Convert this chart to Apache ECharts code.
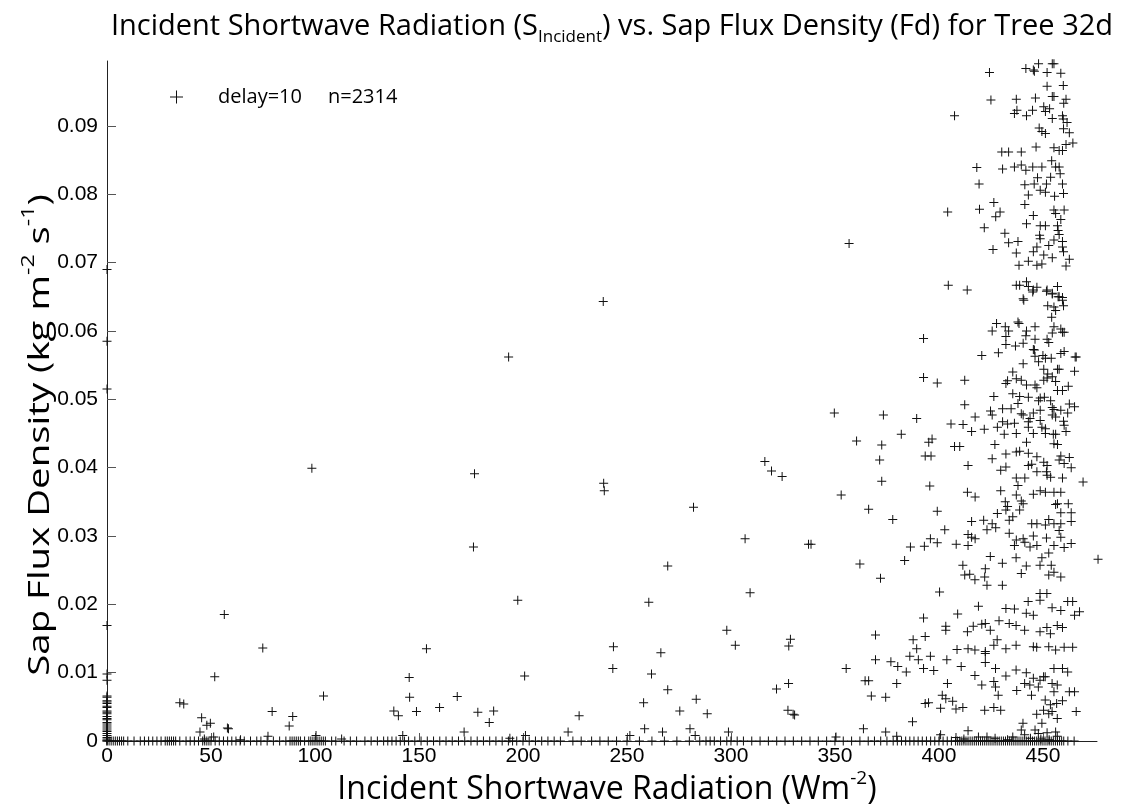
<!DOCTYPE html>
<html>
<head>
<meta charset="utf-8">
<title>Incident Shortwave Radiation vs. Sap Flux Density</title>
<script src="https://cdn.jsdelivr.net/npm/echarts@6/dist/echarts.min.js"></script>
<style>
  html, body { margin: 0; padding: 0; background: #fff; }
  #chart { width: 1122px; height: 812px; }
</style>
</head>
<body>
<div id="chart"></div>
<script>
// Tick positions on both axes
const xTicks = [0, 50, 100, 150, 200, 250, 300, 350, 400, 450];
const yTicks = [0, 0.01, 0.02, 0.03, 0.04, 0.05, 0.06, 0.07, 0.08, 0.09];
const xMax = 476;
const yMax = 0.0995;

// Readings taken at zero incident radiation (Fd values)
const zeroRadiationFd = [0.0690, 0.0585, 0.0515, 0.0169, 0.0098, 0.0089,
  0.0066, 0.0064, 0.0059, 0.0057, 0.0055, 0.0051, 0.0049, 0.0044, 0.0042, 0.0040,
  0.0036, 0.0033, 0.0031, 0.0027, 0.0025, 0.0022, 0.0019, 0.0016, 0.0014, 0.0011,
  0.0008, 0.0005, 0.0003, 0.0001, 0];

// Readings with zero sap flux (radiation values)
const zeroFluxRadiation = [0, 1, 2, 3, 4, 5, 6, 7, 8, 10, 13, 16, 18, 20, 22, 24, 26,
  28, 29, 30, 31, 32, 33, 35, 38, 40, 42, 44, 46, 47, 48, 49, 50, 52, 54, 56, 58, 60,
  62, 64, 66, 69, 72, 74, 77, 80, 83, 86, 88, 89, 90, 91, 92, 93, 95, 97, 98, 99, 100,
  101, 102, 103, 104, 105, 108, 110, 114, 117, 120, 124, 127, 130, 133, 135, 137, 139,
  141, 143, 145, 148, 151, 154, 157, 160, 163, 166, 169, 172, 175, 178, 181, 184, 187,
  190, 193, 195, 197, 200, 203, 206, 209, 212, 215, 218, 224, 228, 233, 237, 241, 245,
  250, 256, 262, 268, 274, 280, 285, 288, 290, 292, 295, 298, 300, 303, 306, 310, 314,
  318, 322, 326, 330, 334, 338, 342, 346, 350, 354, 358, 362, 366, 369, 372, 375, 378,
  380, 382, 384, 386, 388, 390, 392, 394, 396, 398, 400, 402, 404, 406, 408, 409, 410,
  411, 412, 413, 414, 415, 416, 417, 418, 419, 420, 421, 422, 423, 424, 425, 426, 427,
  428, 429, 430, 431, 432, 433, 434, 435, 436, 437, 438, 439, 440, 441, 442, 443, 444,
  445, 446, 447, 448, 449, 450, 451, 452, 453, 454, 455, 456, 457, 458, 459, 460, 462, 465];

// [radiation, Fd] readings below 360 W m-2
const lowRadiation = [
  [98.5, 0.0399], [56.4, 0.0185], [74.9, 0.0136], [51.8, 0.0094], [104.1, 0.0066],
  [35, 0.0056], [36.9, 0.0054], [45.5, 0.0034], [48, 0.0023], [49.7, 0.0026],
  [44.7, 0.0013], [58.4, 0.0018], [79.4, 0.0043], [89.3, 0.0036], [87.6, 0.0022],
  [77.4, 0.0007], [46.8, 0.0003], [51.3, 0.0006], [64.2, 0.0002], [100.5, 0.0008],
  [112.8, 0.0003], [57.9, 0.0019], [201.2, 0.0008],
  [269.6, 0.0256], [309.2, 0.0217], [197.5, 0.0206], [260.5, 0.0203], [153.6, 0.0135],
  [298, 0.0162], [302.1, 0.0140], [328.6, 0.0149], [327.8, 0.0139], [243.5, 0.0138],
  [243.2, 0.0106], [266.3, 0.0129], [261.8, 0.0098], [200.8, 0.0095], [145.3, 0.0093],
  [145.5, 0.0064], [168.4, 0.0065], [159.9, 0.0049], [148.8, 0.0043], [137.9, 0.0044],
  [140.1, 0.0037], [178.3, 0.0042], [185.9, 0.0044], [183.8, 0.0027], [171.7, 0.0013],
  [142.2, 0.0008], [227, 0.0037], [221.7, 0.0013], [258, 0.0056], [269.6, 0.0075],
  [275.4, 0.0044], [283.3, 0.0061], [280.3, 0.0018], [282.8, 0.0008], [288.6, 0.0040],
  [258.5, 0.0018], [267.1, 0.0013], [251.4, 0.0008], [298.8, 0.0013], [330.6, 0.0038],
  [193.7, 0.0004], [350.5, 0.0006], [327.7, 0.0084], [321.9, 0.0076], [327.4, 0.0045],
  [329.9, 0.0039], [355.4, 0.0106],
  [238.6, 0.0643], [193.1, 0.0562], [176.7, 0.0391], [176.2, 0.0284], [238.8, 0.0377],
  [239.1, 0.0366], [282, 0.0342], [316.3, 0.0409], [319.5, 0.0395], [324.6, 0.0387],
  [306.8, 0.0296], [337.3, 0.0288], [338.5, 0.0288], [356.8, 0.0728], [349.7, 0.0480],
  [353, 0.0360]
];

// [radiation, Fd] readings from 360 W m-2 up, Fd below 0.027
const highRadiationLowFd = [
  [362, 0.0259], [383.5, 0.0264], [371.9, 0.0238], [400.3, 0.0218], [411.5, 0.0257],
  [424.7, 0.0270], [430.5, 0.0260], [437.1, 0.0268], [442, 0.0256], [448.6, 0.0257],
  [449.5, 0.0268], [452.8, 0.0275], [454, 0.0257], [412.4, 0.0243], [414.8, 0.0244],
  [417.3, 0.0236], [422.3, 0.0252], [422, 0.0240], [423.1, 0.0228], [430.5, 0.0228],
  [439.6, 0.0245], [452.8, 0.0243], [455.3, 0.0247], [458.6, 0.0240], [476.5, 0.0266],
  [448.6, 0.0216], [451.9, 0.0216], [442.9, 0.0204], [448.6, 0.0206], [454.4, 0.0195],
  [458.6, 0.0191], [461.9, 0.0204], [464.3, 0.0204], [465.2, 0.0184], [467.6, 0.0189],
  [419, 0.0197], [432.2, 0.0194], [436.3, 0.0193], [442, 0.0187], [445.4, 0.0184],
  [409, 0.0186], [392.6, 0.0180], [403.3, 0.0168], [403.3, 0.0162], [413.7, 0.0160],
  [416.5, 0.0168], [420.6, 0.0171], [422.3, 0.0172], [424.7, 0.0162], [428.9, 0.0176],
  [433.8, 0.0172], [437.1, 0.0169], [441.2, 0.0162], [448.6, 0.0160], [451.9, 0.0166],
  [453.6, 0.0157], [456.9, 0.0169], [459.4, 0.0166], [369.5, 0.0155], [387.6, 0.0148],
  [393.4, 0.0153], [428, 0.0148],
  [408.7, 0.0134], [414, 0.0135], [417.3, 0.0133], [422.3, 0.0131], [426.4, 0.0140],
  [432.2, 0.0135], [437.1, 0.0140], [445.4, 0.0138], [447, 0.0137], [452.8, 0.0138],
  [456.1, 0.0133], [460.2, 0.0137], [464.3, 0.0137], [389.3, 0.0135], [369.5, 0.0119],
  [376.9, 0.0116], [380.2, 0.0109], [384.3, 0.0101], [386, 0.0124], [390.1, 0.0119],
  [395.9, 0.0124], [392.6, 0.0106], [397.5, 0.0103], [403.8, 0.0119], [410.7, 0.0109],
  [422.3, 0.0128], [422.3, 0.0115], [427.2, 0.0106], [432.2, 0.0095], [417.3, 0.0096],
  [437.1, 0.0104], [442, 0.0100], [445.4, 0.0092], [450.3, 0.0094], [455.3, 0.0106],
  [459.4, 0.0106], [461.9, 0.0101], [364.5, 0.0088], [366.2, 0.0088],
  [367.5, 0.0066], [374.4, 0.0064], [379.7, 0.0084], [404.1, 0.0084], [420.6, 0.0082],
  [426.4, 0.0087], [427.2, 0.0079], [428.5, 0.0067], [437.4, 0.0074], [441.2, 0.0084],
  [443.7, 0.0082], [447.8, 0.0079], [444.5, 0.0067], [448.6, 0.0089], [451.1, 0.0094],
  [454.4, 0.0084], [456.9, 0.0082], [455.3, 0.0072], [462.7, 0.0072], [465.2, 0.0072],
  [401.6, 0.0067], [403.3, 0.0062], [406.6, 0.0058], [393.4, 0.0055], [395, 0.0056],
  [400.8, 0.0048], [408.2, 0.0047], [411.5, 0.0049], [422, 0.0045], [426.4, 0.0049],
  [429.7, 0.0045], [451.1, 0.0060], [453.6, 0.0053], [456.6, 0.0055], [459.4, 0.0059],
  [447, 0.0039], [450.3, 0.0045], [452.8, 0.0040], [454.4, 0.0043], [466, 0.0043],
  [387.3, 0.0028], [456.9, 0.0033], [449.5, 0.0026], [440.4, 0.0026], [439.6, 0.0016],
  [363.7, 0.0018], [374.4, 0.0013], [414, 0.0015], [446.2, 0.0016], [447.8, 0.0011],
  [452, 0.0012], [456.1, 0.0013], [400.8, 0.0009], [419, 0.0006], [423.1, 0.0006],
  [435.5, 0.0006], [441.2, 0.0009], [456.9, 0.0007], [379.7, 0.0007], [408.2, 0.0005],
  [412, 0.0003], [427, 0.0004], [433, 0.0002], [444, 0.0004], [449, 0.0003], [453, 0.0002]
];

// [radiation, Fd] readings from 360 W m-2 up, Fd 0.027 to 0.066
const highRadiationMidFd = [
  [445.1, 0.0657], [451.7, 0.0658], [454.5, 0.0654], [457.3, 0.0650], [459.4, 0.0645],
  [459.9, 0.0637], [452.3, 0.0637], [455.3, 0.0635], [456.1, 0.0630], [440.8, 0.0645],
  [454.2, 0.0620], [427.7, 0.0611], [431.9, 0.0606], [425.6, 0.0600], [433.5, 0.0600],
  [438, 0.0613], [438.5, 0.0611], [432.2, 0.0592], [442.1, 0.0600], [446.2, 0.0606],
  [441.8, 0.0593], [455.3, 0.0606], [454.5, 0.0597], [458.6, 0.0603], [459.4, 0.0598],
  [460.2, 0.0598], [392.6, 0.0589], [432.2, 0.0580], [436.8, 0.0578], [440.5, 0.0582],
  [446.2, 0.0588], [452, 0.0588], [452.8, 0.0583], [445.4, 0.0573], [445.9, 0.0572],
  [460.2, 0.0570], [458.6, 0.0567], [465.5, 0.0562], [466, 0.0562], [420.6, 0.0564],
  [428.6, 0.0568], [446.2, 0.0563], [450, 0.0564], [451.2, 0.0560], [454, 0.0560],
  [440.5, 0.0552], [435.5, 0.0540], [447.9, 0.0555], [450.4, 0.0544], [457, 0.0544],
  [457.8, 0.0544], [465.2, 0.0541], [452.3, 0.0537], [454.5, 0.0533], [450.4, 0.0528],
  [452, 0.0531], [433, 0.0527], [437.2, 0.0530], [439.6, 0.0528], [432.2, 0.0523],
  [442.1, 0.0521], [446.2, 0.0521], [447.1, 0.0517], [456.1, 0.0526], [457, 0.0513],
  [459.4, 0.0513], [462.2, 0.0519], [392.6, 0.0532], [399.2, 0.0524], [412.4, 0.0528],
  [426.4, 0.0504], [412.4, 0.0492], [435.5, 0.0508], [438.8, 0.0504], [443, 0.0503],
  [448.7, 0.0502], [450.7, 0.0503], [453.7, 0.0498], [438, 0.0494], [447.9, 0.0498],
  [462.7, 0.0493], [465.2, 0.0489], [430.6, 0.0486], [434.7, 0.0486], [454.5, 0.0488],
  [455.3, 0.0485], [458.6, 0.0484], [461.9, 0.0480], [424.8, 0.0483], [425.6, 0.0477],
  [439.6, 0.0479], [440.5, 0.0477], [445.4, 0.0480], [448.7, 0.0484], [454.5, 0.0477],
  [456.1, 0.0474], [373.3, 0.0477], [389.3, 0.0472], [405.8, 0.0464], [411.6, 0.0463],
  [417.4, 0.0474], [415.7, 0.0453], [421.8, 0.0456], [428.1, 0.0459], [430.6, 0.0467],
  [433, 0.0464], [436.3, 0.0465], [443, 0.0467], [443, 0.0459], [443.8, 0.0472],
  [448.7, 0.0469], [449.5, 0.0459], [451.2, 0.0457], [459.9, 0.0468], [460.2, 0.0462],
  [431.4, 0.0449], [437.2, 0.0450], [445.4, 0.0450], [451.2, 0.0450], [455, 0.0449],
  [456.1, 0.0449], [461.1, 0.0453], [455.3, 0.0435], [457, 0.0434], [442.1, 0.0437],
  [426.9, 0.0434], [360.4, 0.0439], [372.5, 0.0433], [381.9, 0.0449], [395.1, 0.0437],
  [396.7, 0.0442], [407.5, 0.0431], [410, 0.0431], [393.4, 0.0417], [396.2, 0.0417],
  [371.5, 0.0411], [414, 0.0403], [425.6, 0.0413], [429.7, 0.0396], [432.2, 0.0420],
  [437.2, 0.0423], [438.8, 0.0424], [443, 0.0421], [447.1, 0.0416], [450.4, 0.0408],
  [452, 0.0403], [458.6, 0.0417], [462.7, 0.0415], [457.8, 0.0411], [460.2, 0.0406],
  [463.6, 0.0400], [432.2, 0.0401], [443, 0.0403], [444.6, 0.0405], [447.1, 0.0394],
  [451.7, 0.0394], [452, 0.0389], [453.7, 0.0386], [437.2, 0.0385], [441.3, 0.0385],
  [459.4, 0.0385], [469.3, 0.0379], [372.5, 0.0380], [395.6, 0.0373], [413.7, 0.0364],
  [417.4, 0.0357], [429.7, 0.0366], [437.2, 0.0360], [438, 0.0374], [445.4, 0.0361],
  [448.7, 0.0366], [451.2, 0.0364], [455.3, 0.0364], [458.6, 0.0364], [431.9, 0.0350],
  [433, 0.0343], [432.2, 0.0338], [428.1, 0.0333], [433.8, 0.0323], [435.5, 0.0328],
  [439.6, 0.0351], [440.5, 0.0347], [438.8, 0.0338], [456.1, 0.0346], [457, 0.0347],
  [462.2, 0.0347], [458.6, 0.0334], [463.6, 0.0334], [366.2, 0.0339], [377.8, 0.0324],
  [399.2, 0.0336], [415.7, 0.0321], [421.5, 0.0323], [425.6, 0.0318], [427.3, 0.0312],
  [423.1, 0.0309], [444.6, 0.0318], [447.1, 0.0318], [452.8, 0.0324], [455.3, 0.0318],
  [458.6, 0.0318], [463.6, 0.0321], [451.2, 0.0316], [402.8, 0.0309], [414, 0.0302],
  [415.7, 0.0298], [417.4, 0.0296], [433.8, 0.0304], [437.2, 0.0294], [436.3, 0.0286],
  [440.5, 0.0296], [441.3, 0.0291], [443.8, 0.0284], [447.1, 0.0286], [445.4, 0.0300],
  [451.7, 0.0297], [455.3, 0.0286], [457.8, 0.0308], [458.6, 0.0298], [460.2, 0.0283],
  [463.6, 0.0289], [395.9, 0.0296], [399.2, 0.0290], [386.3, 0.0284], [393, 0.0285],
  [408.3, 0.0288], [414, 0.0286]
];

// [radiation, Fd] readings from 360 W m-2 up, Fd above 0.066
const highRadiationHighFd = [
  [447.9, 0.0991], [454.5, 0.0991], [455.3, 0.0991], [441.8, 0.0984], [445.4, 0.0982],
  [445.9, 0.0980], [452, 0.0978], [458.6, 0.0977], [424.3, 0.0978], [452, 0.0958],
  [459.8, 0.0959], [425, 0.0938], [437.2, 0.0939], [446.4, 0.0941], [454.5, 0.0943],
  [455.3, 0.0943], [461.1, 0.0939], [460, 0.0933], [407.5, 0.0915], [436.3, 0.0918],
  [437.5, 0.0923], [442.1, 0.0915], [445, 0.0923], [450.4, 0.0928], [451.2, 0.0921],
  [453.2, 0.0925], [454.5, 0.0911], [459.4, 0.0915], [459.8, 0.0910], [461.6, 0.0905],
  [448.2, 0.0897], [449.5, 0.0892], [451.2, 0.0889], [459.9, 0.0896], [462.7, 0.0890],
  [446.7, 0.0869], [455.3, 0.0868], [457.8, 0.0864], [459.4, 0.0864], [461.1, 0.0873],
  [464.4, 0.0875], [430.2, 0.0862], [433.5, 0.0862], [439.6, 0.0862], [418.2, 0.0839],
  [430.6, 0.0837], [436.3, 0.0840], [439.6, 0.0843], [441.8, 0.0835], [445.1, 0.0840],
  [449.5, 0.0840], [454.2, 0.0849], [456.1, 0.0840], [457.8, 0.0840], [458.3, 0.0830],
  [447.4, 0.0824], [453.7, 0.0825], [419.3, 0.0815], [441.3, 0.0814], [445.8, 0.0815],
  [451.7, 0.0815], [459.4, 0.0815], [443, 0.0799], [448.7, 0.0806], [451.2, 0.0803],
  [455.6, 0.0797], [459.9, 0.0801], [426.4, 0.0788], [429.4, 0.0774], [427.3, 0.0767],
  [404.2, 0.0774], [419.5, 0.0778], [441.3, 0.0785], [445.4, 0.0769], [455.3, 0.0777],
  [456.1, 0.0772], [460.2, 0.0777], [458.6, 0.0763], [421.8, 0.0751], [442.1, 0.0757],
  [448.7, 0.0754], [451.2, 0.0754], [457, 0.0754], [457.3, 0.0747], [457.8, 0.0741],
  [431.7, 0.0743], [448.4, 0.0740], [433.5, 0.0729], [438, 0.0731], [448.7, 0.0735],
  [455.3, 0.0733], [459.4, 0.0731], [452.8, 0.0725], [459.4, 0.0723], [426, 0.0719],
  [445.4, 0.0716], [447.1, 0.0723], [437.2, 0.0714], [459.9, 0.0716], [450.4, 0.0711],
  [454.5, 0.0707], [462.7, 0.0705], [443, 0.0702], [438.5, 0.0696], [447.1, 0.0696],
  [449.5, 0.0698], [461.1, 0.0695], [404.5, 0.0667], [413.6, 0.0660], [437.2, 0.0667],
  [438.8, 0.0667], [442.1, 0.0672], [443, 0.0665], [445.4, 0.0660], [447.1, 0.0664],
  [452, 0.0660], [454.5, 0.0655], [457, 0.0665], [457.8, 0.0650], [459.4, 0.0649],
  [440.5, 0.0647]
];

const seriesName = 'delay=10     n=2314';

// Assemble the scatter data from the reading groups
const points = []
  .concat(zeroRadiationFd.map(v => [0, v]))
  .concat(zeroFluxRadiation.map(v => [v, 0]))
  .concat(lowRadiation, highRadiationLowFd, highRadiationMidFd, highRadiationHighFd);

// Thin "+" marker drawn as a filled cross
const plusMarker = 'path://M4,0H5V4H9V5H5V9H4V5H0V4H4Z';
const plusLegend = 'path://M6,0H7V6H13V7H7V13H6V7H0V6H6Z';

const chart = echarts.init(document.getElementById('chart'), null, { renderer: 'canvas' });

const tickFont = 'Liberation Sans, Arial, sans-serif';
const textFont = 'Open Sans, Noto Sans, sans-serif';

chart.setOption({
  backgroundColor: '#ffffff',
  animation: false,
  graphic: [
    {
      // chart title
      type: 'text',
      x: 612,
      y: 27,
      style: {
        text: '{b|Incident Shortwave Radiation (S}{s|Incident}{b|) vs. Sap Flux Density (Fd) for Tree 32d}',
        align: 'center',
        verticalAlign: 'middle',
        fill: '#000',
        rich: {
          b: { fontSize: 29, fontFamily: textFont, lineHeight: 38, verticalAlign: 'middle', fill: '#000' },
          s: { fontSize: 17, fontFamily: textFont, lineHeight: 22, verticalAlign: 'bottom', fill: '#000' }
        }
      }
    },
    {
      // x-axis title
      type: 'text',
      x: 607,
      y: 790,
      style: {
        text: '{b|Incident Shortwave Radiation (Wm}{p|-2}{b|)}',
        align: 'center',
        verticalAlign: 'middle',
        fill: '#000',
        rich: {
          b: { fontSize: 32, fontFamily: textFont, lineHeight: 42, verticalAlign: 'middle', fill: '#000' },
          p: { fontSize: 19, fontFamily: textFont, lineHeight: 24, verticalAlign: 'top', fill: '#000' }
        }
      }
    },
    {
      // y-axis title, read bottom to top
      type: 'text',
      x: 40,
      y: 435,
      rotation: Math.PI / 2,
      scaleX: 1.28,
      style: {
        text: '{b|Sap Flux Density (kg m}{p|-2}{b| s}{p|-1}{b|)}',
        align: 'center',
        verticalAlign: 'middle',
        fill: '#000',
        rich: {
          b: { fontSize: 30, fontFamily: textFont, lineHeight: 40, verticalAlign: 'middle', fill: '#000' },
          p: { fontSize: 18, fontFamily: textFont, lineHeight: 22, verticalAlign: 'top', fill: '#000' }
        }
      }
    }
  ],
  grid: {
    left: 107,
    right: 25,
    top: 61,
    bottom: 71,
    containLabel: false,
    outerBoundsMode: 'none'
  },
  legend: {
    show: true,
    left: 165,
    top: 82,
    icon: plusLegend,
    itemWidth: 13,
    itemHeight: 13,
    itemGap: 0,
    selectedMode: false,
    data: [seriesName],
    textStyle: {
      fontSize: 20,
      fontFamily: textFont,
      color: '#000',
      padding: [0, 0, 0, 30]
    }
  },
  xAxis: {
    type: 'value',
    min: 0,
    max: xMax,
    interval: 50,
    axisLine: { show: true, onZero: false, lineStyle: { color: '#222', width: 1 } },
    axisTick: { show: true, inside: true, length: 8, customValues: xTicks, lineStyle: { color: '#555', width: 1 } },
    axisLabel: { show: true, customValues: xTicks, fontSize: 21, fontFamily: tickFont, color: '#000', margin: 5 },
    splitLine: { show: false }
  },
  yAxis: {
    type: 'value',
    min: 0,
    max: yMax,
    interval: 0.01,
    axisLine: { show: true, onZero: false, lineStyle: { color: '#222', width: 1 } },
    axisTick: { show: true, inside: true, length: 9, customValues: yTicks, lineStyle: { color: '#555', width: 1 } },
    axisLabel: {
      show: true,
      customValues: yTicks,
      fontSize: 21,
      fontFamily: tickFont,
      color: '#000',
      margin: 9,
      formatter: v => (v === 0 ? '0' : v.toFixed(2))
    },
    splitLine: { show: false }
  },
  series: [{
    name: seriesName,
    type: 'scatter',
    data: points,
    symbol: plusMarker,
    symbolSize: 9,
    itemStyle: { color: '#111', opacity: 1 },
    emphasis: { disabled: true },
    clip: false,
    z: 3
  }]
});
</script>
</body>
</html>
